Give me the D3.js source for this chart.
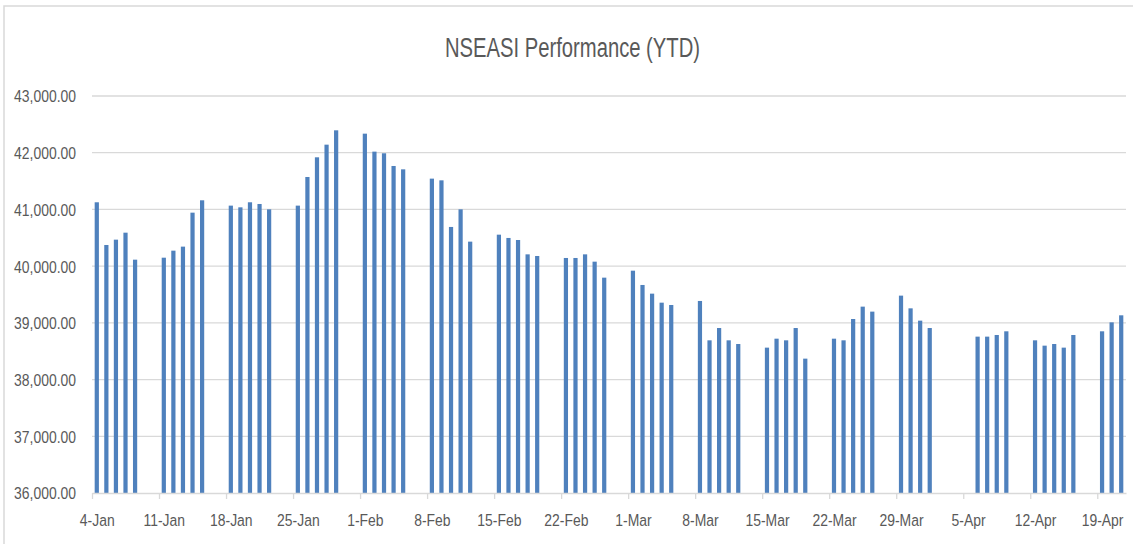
<!DOCTYPE html>
<html>
<head>
<meta charset="utf-8">
<script src="https://cdn.jsdelivr.net/npm/d3@7"></script>
<style>
  html, body { margin: 0; padding: 0; background: #fff; }
  svg { display: block; }
  text { font-family: "Liberation Sans", Arial, sans-serif; fill: #595959; }
</style>
</head>
<body>
<svg id="chart" width="1133" height="544"></svg>
<script>
const titleText = "NSEASI Performance (YTD)";

const tradingDates = [
  "2021-01-04","2021-01-05","2021-01-06","2021-01-07","2021-01-08",
  "2021-01-11","2021-01-12","2021-01-13","2021-01-14","2021-01-15",
  "2021-01-18","2021-01-19","2021-01-20","2021-01-21","2021-01-22",
  "2021-01-25","2021-01-26","2021-01-27","2021-01-28","2021-01-29",
  "2021-02-01","2021-02-02","2021-02-03","2021-02-04","2021-02-05",
  "2021-02-08","2021-02-09","2021-02-10","2021-02-11","2021-02-12",
  "2021-02-15","2021-02-16","2021-02-17","2021-02-18","2021-02-19",
  "2021-02-22","2021-02-23","2021-02-24","2021-02-25","2021-02-26",
  "2021-03-01","2021-03-02","2021-03-03","2021-03-04","2021-03-05",
  "2021-03-08","2021-03-09","2021-03-10","2021-03-11","2021-03-12",
  "2021-03-15","2021-03-16","2021-03-17","2021-03-18","2021-03-19",
  "2021-03-22","2021-03-23","2021-03-24","2021-03-25","2021-03-26",
  "2021-03-29","2021-03-30","2021-03-31","2021-04-01",
  "2021-04-06","2021-04-07","2021-04-08","2021-04-09",
  "2021-04-12","2021-04-13","2021-04-14","2021-04-15","2021-04-16",
  "2021-04-19","2021-04-20","2021-04-21"
];

const indexValues = [
  41126, 40373, 40467, 40590, 40114,
  40149, 40273, 40344, 40943, 41161,
  41067, 41037, 41126, 41096, 41002,
  41067, 41572, 41919, 42142, 42395,
  42336, 42019, 41990, 41766, 41707,
  41543, 41513, 40691, 41002, 40432,
  40555, 40497, 40461, 40208, 40179,
  40144, 40144, 40208, 40079, 39797,
  39920, 39668, 39515, 39356, 39315,
  39386, 38692, 38909, 38692, 38627,
  38563, 38721, 38692, 38909, 38369,
  38721, 38692, 39068, 39286, 39198,
  39480, 39256, 39039, 38909,
  38757, 38757, 38786, 38851,
  38692, 38598, 38627, 38563, 38786,
  38851, 39009, 39133
];

const axisStart = "2021-01-04";
const axisEnd = "2021-04-22";
const yTickValues = [36000, 37000, 38000, 39000, 40000, 41000, 42000, 43000];

(function () {
const parse = d3.utcParse("%Y-%m-%d");
const data = tradingDates.map((d, i) => ({ date: parse(d), value: indexValues[i] }));

const svg = d3.select("#chart");
const pLeft = 92, pRight = 1126, pTop = 96, pBottom = 493;

// chart border
svg.append("rect")
  .attr("x", 4).attr("y", 6).attr("width", 1140).attr("height", 560)
  .attr("fill", "none").attr("stroke", "#d9d9d9").attr("stroke-width", 1.5);

const x = d3.scaleUtc().domain([parse(axisStart), parse(axisEnd)]).range([pLeft, pRight]);
const y = d3.scaleLinear().domain([36000, 43000]).range([pBottom, pTop]);
const slot = x(d3.utcDay.offset(parse(axisStart), 1)) - x(parse(axisStart));

// gridlines
svg.append("g").selectAll("line").data(yTickValues.slice(1)).join("line")
  .attr("x1", pLeft).attr("x2", pRight)
  .attr("y1", d => y(d)).attr("y2", d => y(d))
  .attr("stroke", "#d9d9d9").attr("stroke-width", 1.3);

// y axis labels
const yAxis = svg.append("g").attr("transform", `translate(${pLeft},0)`)
  .call(d3.axisLeft(y).tickValues(yTickValues).tickFormat(d3.format(",.2f")).tickSize(0).tickPadding(16));
yAxis.select(".domain").remove();
yAxis.selectAll("text")
  .attr("x", null).attr("dy", "0.35em")
  .attr("transform", "translate(-16,0) scale(0.82,1)")
  .style("font-size", "17px").style("fill", "#595959")
  .attr("text-anchor", "end");

// bars
const barW = slot * 0.44;
svg.append("g").selectAll("rect").data(data).join("rect")
  .attr("x", d => x(d.date) + (slot - barW) / 2)
  .attr("width", barW)
  .attr("y", d => y(d.value))
  .attr("height", d => pBottom - y(d.value))
  .attr("fill", "#4f81bd");

// x axis
const xAxis = svg.append("g").attr("transform", `translate(0,${pBottom})`)
  .call(d3.axisBottom(x).ticks(d3.utcMonday.every(1)).tickFormat(d3.utcFormat("%-d-%b")).tickSizeOuter(0).tickSizeInner(6));
xAxis.select(".domain").attr("stroke", "#d9d9d9").attr("stroke-width", 1.3);
xAxis.selectAll(".tick line").attr("stroke", "#d9d9d9").attr("stroke-width", 1.3);
xAxis.selectAll(".tick text")
  .attr("y", null).attr("dy", null)
  .attr("transform", `translate(${slot / 2},33) scale(0.82,1)`)
  .style("font-size", "17px").style("fill", "#595959");

// title
svg.append("text")
  .attr("x", 572.5).attr("y", 57)
  .attr("text-anchor", "middle")
  .attr("textLength", 255).attr("lengthAdjust", "spacingAndGlyphs")
  .style("font-size", "27px").style("fill", "#595959")
  .text(titleText);
})();
</script>
</body>
</html>
